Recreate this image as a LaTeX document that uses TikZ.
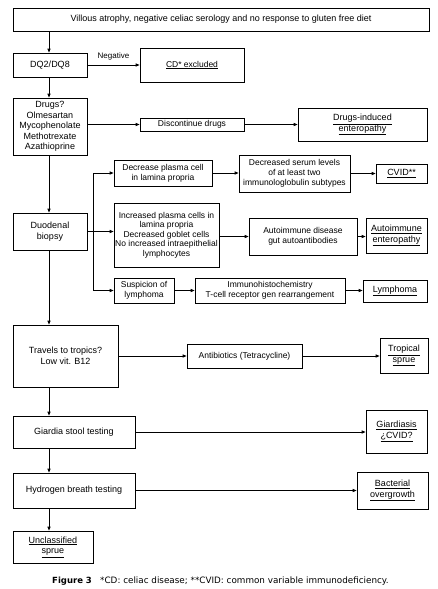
\documentclass[tikz,border=0pt]{standalone}
\usepackage{fontspec}
\setmainfont{Liberation Sans}
\newfontfamily\capfont{DejaVu Sans}
\usetikzlibrary{arrows.meta}
\begin{document}
\begin{tikzpicture}[x=1pt,y=-1pt,
  box/.style={draw, line width=0.8pt, align=center, inner sep=0pt, font=\fontsize{9}{10.5}\selectfont},
  sbox/.style={box, font=\fontsize{8.5}{10}\selectfont},
  arr/.style={line width=0.8pt, -{Triangle[length=4pt,width=3.2pt]}},
  ln/.style={line width=0.8pt}]
\useasboundingbox (0,0) rectangle (438,589);
\coordinate (sp) at (49,0);
\coordinate (br) at (93,0);
% left column
\node[box, minimum width=416, minimum height=23] (top) at (221,19.5) {Villous atrophy, negative celiac serology and no response to gluten free diet};
\node[box, minimum width=74, minimum height=24] (dq) at (50,65) {DQ2/DQ8};
\node[box, minimum width=74, minimum height=57] (drugs) at (50,126.5) {Drugs?\\Olmesartan\\Mycophenolate\\Methotrexate\\Azathioprine};
\node[box, minimum width=74, minimum height=37] (duod) at (50,231.5) {Duodenal\\biopsy};
\node[box, minimum width=105, minimum height=62] (trav) at (65.5,356) {Travels to tropics?\\Low vit. B12};
\node[box, minimum width=122, minimum height=32] (giar) at (74,432) {Giardia stool testing};
\node[box, minimum width=122, minimum height=35] (hyd) at (74,490.5) {Hydrogen breath testing};
\node[box, minimum width=80, minimum height=32] (uncl) at (53,547) {\underline{Unclassified}\\\underline{sprue}};
% right side
\node[sbox, minimum width=104, minimum height=34] (cd) at (192,65) {\underline{CD* excluded}};
\node[sbox, minimum width=104, minimum height=13] (disc) at (192,124.5) {Discontinue drugs};
\node[box, minimum width=129, minimum height=33] (dind) at (362.5,124.5) {\underline{Drugs-induced}\\\underline{enteropathy}};
\node[sbox, minimum width=98, minimum height=26] (dpc) at (163,173) {Decrease plasma cell\\in lamina propria};
\node[sbox, minimum width=111, minimum height=37] (dsl) at (294.5,173.5) {Decreased serum levels\\of at least two\\immunologlobulin subtypes};
\node[box, minimum width=51, minimum height=19] (cvid) at (401.5,173.5) {\underline{CVID**}};
\node[sbox, minimum width=105, minimum height=64, font=\fontsize{8.5}{9.6}\selectfont] (ipc) at (166.5,235) {Increased plasma cells in\\lamina propria\\Decreased goblet cells\\No increased intraepithelial\\lymphocytes};
\node[sbox, minimum width=108, minimum height=37] (aid) at (303,236.5) {Autoimmune disease\\gut autoantibodies};
\node[box, minimum width=61, minimum height=35] (aie) at (396.5,235.5) {\underline{Autoimmune}\\\underline{enteropathy}};
\node[sbox, minimum width=60, minimum height=25] (sus) at (144,290.5) {Suspicion of\\lymphoma};
\node[sbox, minimum width=150, minimum height=25] (ihc) at (270,290.5) {Immunohistochemistry\\T-cell receptor gen rearrangement};
\node[box, minimum width=64, minimum height=22] (lym) at (395,291) {\underline{Lymphoma}};
\node[sbox, minimum width=115, minimum height=24] (anti) at (244.5,356) {Antibiotics (Tetracycline)};
\node[box, minimum width=48, minimum height=35] (trop) at (404,355.5) {\underline{Tropical}\\\underline{sprue}};
\node[box, minimum width=61, minimum height=43] (giad) at (396.5,431.5) {\underline{Giardiasis}\\\underline{¿CVID?}};
\node[box, minimum width=71, minimum height=37] (bact) at (392.5,490.5) {\underline{Bacterial}\\\underline{overgrowth}};
% spine arrows
\draw[arr] (top.south -| sp) -- (dq.north -| sp);
\draw[arr] (dq.south -| sp) -- (drugs.north -| sp);
\draw[arr] (drugs.south -| sp) -- (duod.north -| sp);
\draw[arr] (duod.south -| sp) -- (trav.north -| sp);
\draw[arr] (trav.south -| sp) -- (giar.north -| sp);
\draw[arr] (giar.south -| sp) -- (hyd.north -| sp);
\draw[arr] (hyd.south -| sp) -- (uncl.north -| sp);
% horizontal arrows
\draw[arr] (dq) -- node[midway, above=1pt, font=\fontsize{8}{9}\selectfont] (neg) {Negative} (cd);
\draw[arr] (drugs.east |- disc) -- (disc);
\draw[arr] (disc) -- (dind);
\coordinate (bm) at (duod.east -| br);
\draw[ln] (duod.east) -- (bm);
\draw[ln] (dpc.west -| br) -- (sus.west -| br);
\draw[arr] (dpc.west -| br) -- (dpc.west);
\draw[arr] (bm) -- (ipc.west |- bm);
\draw[arr] (sus.west -| br) -- (sus.west);
\draw[arr] (dpc) -- (dsl.west |- dpc);
\draw[arr] (dsl) -- (cvid);
\draw[arr] (ipc.east |- aid) -- (aid);
\draw[arr] (aid) -- (aie.west |- aid);
\draw[arr] (sus) -- (ihc);
\draw[arr] (ihc) -- (lym.west |- ihc);
\draw[arr] (trav) -- (anti);
\draw[arr] (anti) -- (trop.west |- anti);
\draw[arr] (giar) -- (giad.west |- giar);
\draw[arr] (hyd) -- (bact.west |- hyd);
% caption
\node[anchor=base west, inner sep=0pt, font=\capfont\fontsize{8.5}{10}\selectfont\bfseries] (fig) at (52,583) {Figure 3};
\node[anchor=base west, inner sep=0pt, font=\capfont\fontsize{8.8}{10}\selectfont] (cap) at (100,583) {*CD: celiac disease; **CVID: common variable immunodeficiency.};
\end{tikzpicture}
\end{document}
